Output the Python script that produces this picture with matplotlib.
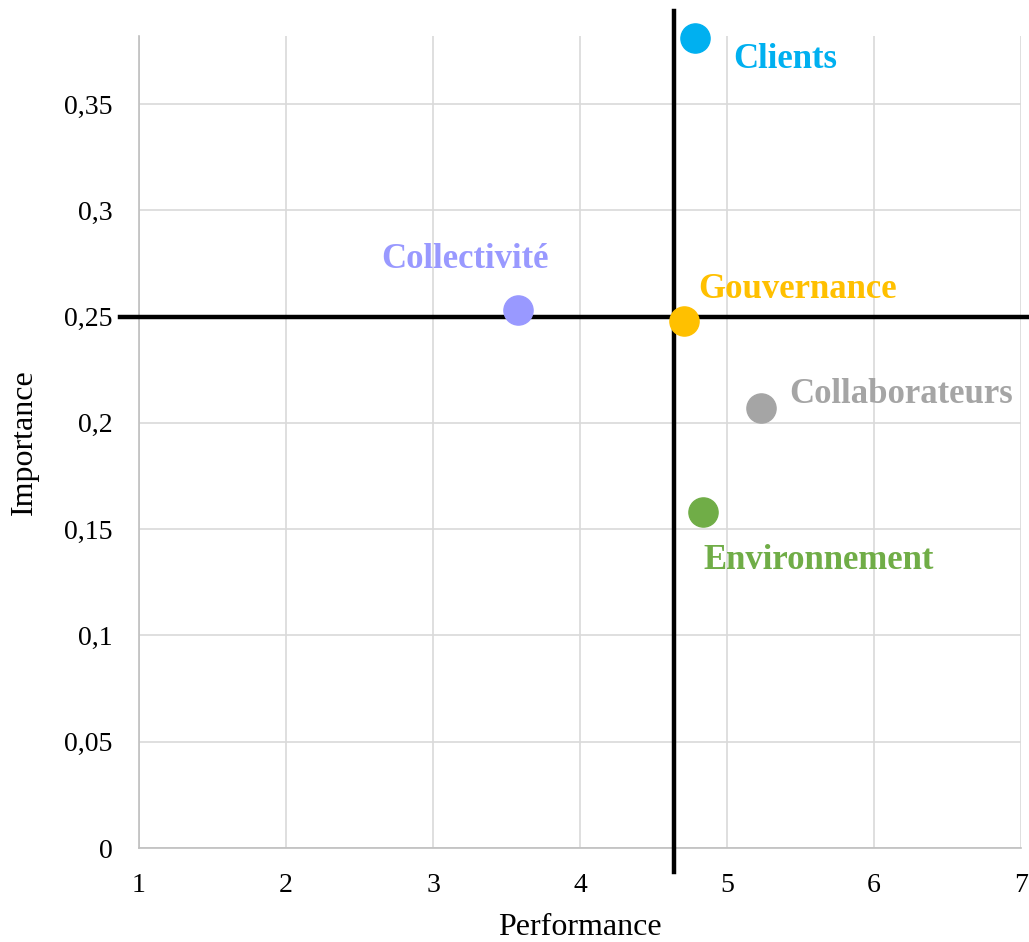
import numpy as np
import matplotlib
matplotlib.use('Agg')
import matplotlib.pyplot as plt
from matplotlib.ticker import FuncFormatter, MultipleLocator

plt.rcParams['font.family'] = ['Liberation Serif', 'DejaVu Serif']

# données
noms = ['Clients', 'Collectivité', 'Gouvernance', 'Collaborateurs', 'Environnement']
performance = [4.78, 3.58, 4.71, 5.23, 4.84]
importance = [0.381, 0.253, 0.248, 0.207, 0.158]
couleurs = ['#00B0F0', '#9999FF', '#FFC000', '#A5A5A5', '#70AD47']

moy_perf = 4.64
moy_imp = 0.25

# décalage des étiquettes (pixels) et alignement
decalages = [(39, -21, 'left'), (-53, 51, 'center'), (14, 31, 'left'),
             (28, 13, 'left'), (0, -48, 'left')]

fig = plt.figure(figsize=(10.29, 9.42), dpi=100)
ax = fig.add_axes([139 / 1029, 94 / 942, (1021 - 139) / 1029, (848 - 36) / 942])

ax.set_xlim(1, 7)
ax.set_ylim(0, 0.382)
ax.xaxis.set_major_locator(MultipleLocator(1))
ax.yaxis.set_major_locator(MultipleLocator(0.05))

def virgule(v, pos):
    s = ('%.2f' % v).rstrip('0').rstrip('.')
    return s.replace('.', ',')

ax.yaxis.set_major_formatter(FuncFormatter(virgule))
ax.grid(True, color='#D9D9D9', linewidth=1.2)
ax.set_axisbelow(True)
for s in ['top', 'right']:
    ax.spines[s].set_visible(False)
for s in ['left', 'bottom']:
    ax.spines[s].set_color('#BFBFBF')
    ax.spines[s].set_linewidth(1.2)
ax.tick_params(length=0, labelsize=20)
ax.tick_params(axis='y', pad=19)
ax.tick_params(axis='x', pad=18)

# lignes des moyennes
ax.plot([0.87, 7.05], [moy_imp, moy_imp], color='black', lw=3.2, clip_on=False, zorder=3)
ax.plot([moy_perf, moy_perf], [-0.0113, 0.3937], color='black', lw=3.2, clip_on=False, zorder=3)

for i in range(len(noms)):
    ax.plot(performance[i], importance[i], 'o', color=couleurs[i], ms=21,
            clip_on=False, zorder=4)
    dx, dy, ha = decalages[i]
    ax.annotate(noms[i], (performance[i], importance[i]), xytext=(dx, dy),
                textcoords='offset pixels', ha=ha, va='center', color=couleurs[i],
                fontsize=25, fontweight='bold', annotation_clip=False)

ax.set_xlabel('Performance', fontsize=23, labelpad=11)
ax.set_ylabel('Importance', fontsize=23, labelpad=18)

plt.savefig('out.png', dpi=100)
